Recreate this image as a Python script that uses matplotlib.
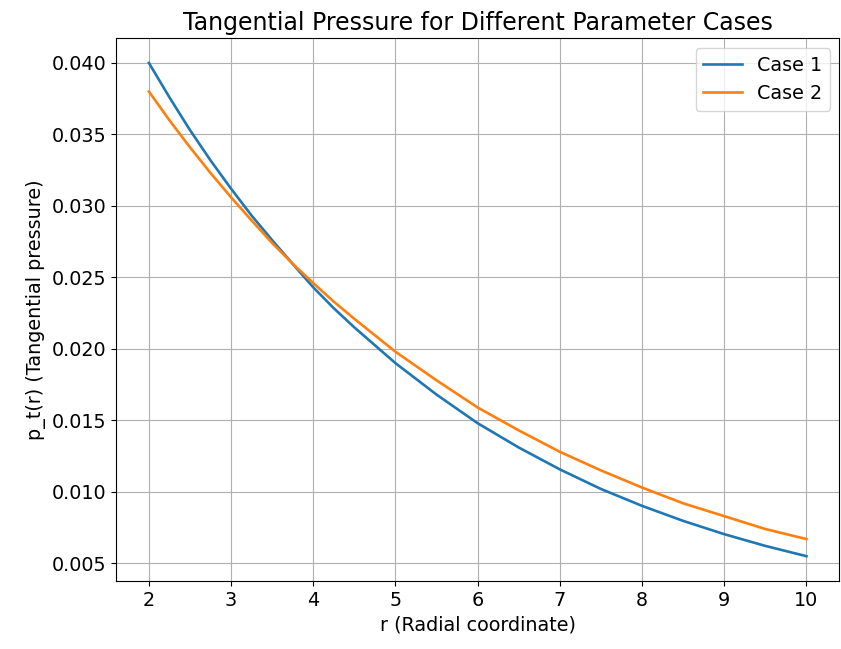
import matplotlib
matplotlib.use("Agg")
import matplotlib.pyplot as plt

# values (finer steps where the curves bend most)
r = [2.0, 2.25, 2.5, 2.75, 3.0, 3.25, 3.5, 3.75, 4.0, 4.25, 4.5, 5.0, 5.5, 6.0,
     6.5, 7.0, 7.5, 8.0, 8.5, 9.0, 9.5, 10.0]
case1 = [0.0400, 0.03759, 0.0353, 0.03318, 0.0312, 0.02932, 0.0276, 0.02594,
         0.0243, 0.02284, 0.0215, 0.0190, 0.0168, 0.0148, 0.0131, 0.01157,
         0.0102, 0.00902, 0.00797, 0.00704, 0.00622, 0.0055]
case2 = [0.0380, 0.03599, 0.0341, 0.03230, 0.0306, 0.02898, 0.0274, 0.02595,
         0.0246, 0.0233, 0.0221, 0.0198, 0.0178, 0.0159, 0.0143, 0.0128,
         0.0115, 0.0103, 0.0092, 0.0083, 0.0074, 0.0067]

plt.rcParams['font.size'] = 13.8

fig, ax = plt.subplots(figsize=(8.41, 6.49), dpi=100)
fig.subplots_adjust(left=0.138, right=0.998, top=0.941, bottom=0.105)

ax.plot(r, case1, label='Case 1', lw=1.9)
ax.plot(r, case2, label='Case 2', lw=1.9)

ax.set_title('Tangential Pressure for Different Parameter Cases', fontsize=17)
ax.set_xlabel('r (Radial coordinate)')
ax.set_ylabel('p_t(r) (Tangential pressure)')
ax.set_xticks(range(2, 11))
ax.set_yticks([0.005, 0.010, 0.015, 0.020, 0.025, 0.030, 0.035, 0.040])
ax.grid(True)
ax.legend(loc='upper right')

fig.savefig('out.png')
